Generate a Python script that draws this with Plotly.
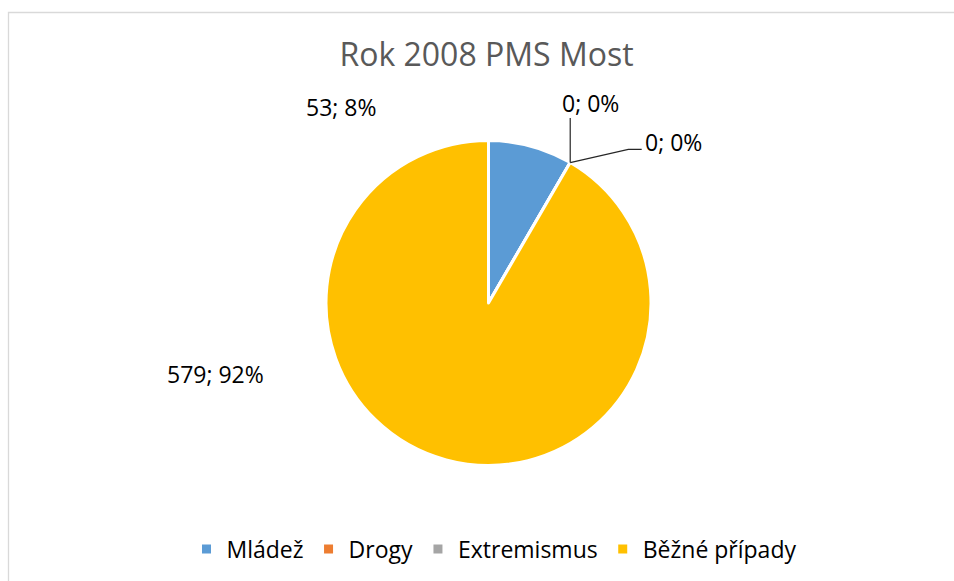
import math
import plotly.graph_objects as go

# ---- data ----
categories = ["Mládež", "Drogy", "Extremismus", "Běžné případy"]
values = [53, 0, 0, 579]
colors = ["#5B9BD5", "#ED7D31", "#A5A5A5", "#FFC000"]
title_text = "Rok 2008 PMS Most"

W, H = 954, 581
FONT = "Open Sans"

# pie geometry (pixels)
cx, cy, r = 488.5, 303.0, 162.5

def px(x):
    return x / W

def py(y):
    return 1 - y / H

total = sum(values)
pct = [round(100 * v / total) for v in values]
labels = [f"{v}; {p}%" for v, p in zip(values, pct)]

fig = go.Figure()
fig.add_trace(go.Pie(
    labels=categories,
    values=values,
    sort=False,
    direction="clockwise",
    rotation=0,
    marker=dict(colors=colors, line=dict(color="white", width=3)),
    textinfo="none",
    hoverinfo="label+value+percent",
    domain=dict(x=[px(cx - r - 5), px(cx + r + 5)], y=[py(cy + r), py(cy - r)]),
    showlegend=True,
))

# label positions (layout)
label_pos = [(340.8, 107.3), (590.8, 103.0), (673.3, 141.7), (215.8, 373.7)]
annotations = []
for txt, (lx, ly) in zip(labels, label_pos):
    annotations.append(dict(
        x=px(lx), y=py(ly), xref="paper", yref="paper",
        text=txt, showarrow=False, xanchor="center", yanchor="middle",
        font=dict(family=FONT, size=23, color="#000000"),
    ))

# leader lines for zero-value slices, starting at the slice boundary on the pie edge
cum = 0
shapes = []
for i, v in enumerate(values):
    start = cum
    cum += v
    if v == 0:
        theta = 2 * math.pi * start / total
        sx = cx + r * math.sin(theta)
        sy = cy - r * math.cos(theta)
        if i == 1:
            path = f"M{px(sx)},{py(sy)} L{px(sx)},{py(118)}"
        else:
            path = f"M{px(sx)},{py(sy)} L{px(628.3)},{py(149.3)} L{px(641.7)},{py(149.3)}"
        shapes.append(dict(type="path", xref="paper", yref="paper", path=path,
                           line=dict(color="#262626", width=1.2)))

# chart border (Excel chart area)
shapes.append(dict(type="rect", xref="paper", yref="paper",
                   x0=px(8.5), x1=1.02, y0=-0.02, y1=py(12.5),
                   line=dict(color="#D9D9D9", width=1.3), layer="below"))

fig.update_layout(
    width=W, height=H, autosize=False,
    margin=dict(l=0, r=0, t=0, b=0),
    paper_bgcolor="white",
    title=dict(text=title_text, x=px(486.5), xanchor="center",
               y=py(55), yanchor="middle", yref="container",
               font=dict(family=FONT, size=32, color="#595959")),
    legend=dict(orientation="h", x=px(494), xanchor="center",
                y=py(549), yanchor="middle",
                font=dict(family=FONT, size=23, color="#000000"),
                traceorder="normal"),
    annotations=annotations,
    shapes=shapes,
    font=dict(family=FONT),
)

fig.write_html("out.html", config={"displayModeBar": False},
               post_script="document.body.style.margin='0';")
